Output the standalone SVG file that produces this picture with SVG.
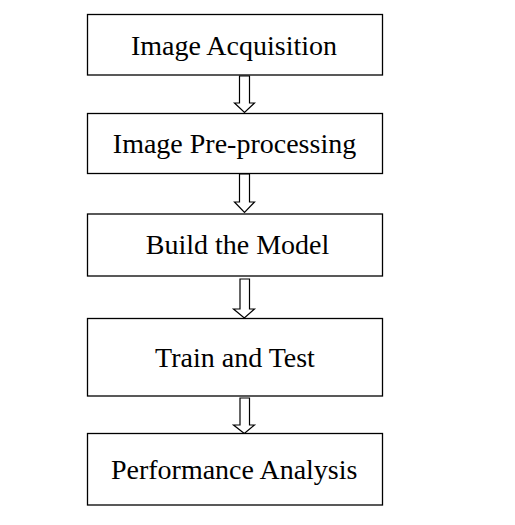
<svg xmlns="http://www.w3.org/2000/svg" width="515" height="525" viewBox="0 0 515 525">
<style>
.box{fill:#fff;stroke:#000;stroke-width:1.3}
.arr{fill:#fff;stroke:#000;stroke-width:1.2;stroke-linejoin:miter}
.t{font-family:"Liberation Serif","Times New Roman",serif;font-size:28px;fill:#000;text-anchor:middle}
</style>
<rect width="515" height="525" fill="#fff"/>
<g id="connectors">
<polygon class="arr" points="239.5,76 249.5,76 249.5,103 254.5,103 244.5,112.5 234.5,103 239.5,103"/>
<polygon class="arr" points="239.5,174 249.5,174 249.5,202 254.5,202 244.5,212.5 234.5,202 239.5,202"/>
<polygon class="arr" points="240,279 249.5,279 249.5,309 254.5,309 244.3,318 233.5,309 240,309"/>
<polygon class="arr" points="240,398 249.5,398 249.5,425 254.5,425 244.3,433.5 233.5,425 240,425"/>
</g>
<g id="n1"><rect class="box" x="87.5" y="14.5" width="295" height="60.5"/><text class="t" x="234" y="55">Image Acquisition</text></g>
<g id="n2"><rect class="box" x="87.5" y="113.5" width="295" height="60"/><text class="t" x="234.5" y="153.3">Image Pre-processing</text></g>
<g id="n3"><rect class="box" x="87.5" y="214" width="295" height="62"/><text class="t" x="237.5" y="254.3">Build the Model</text></g>
<g id="n4"><rect class="box" x="87.5" y="318.5" width="295" height="77.5"/><text class="t" x="235" y="366.7">Train and Test</text></g>
<g id="n5"><rect class="box" x="87.5" y="433.5" width="295" height="71.5"/><text class="t" x="234.2" y="479.3">Performance Analysis</text></g>
</svg>
